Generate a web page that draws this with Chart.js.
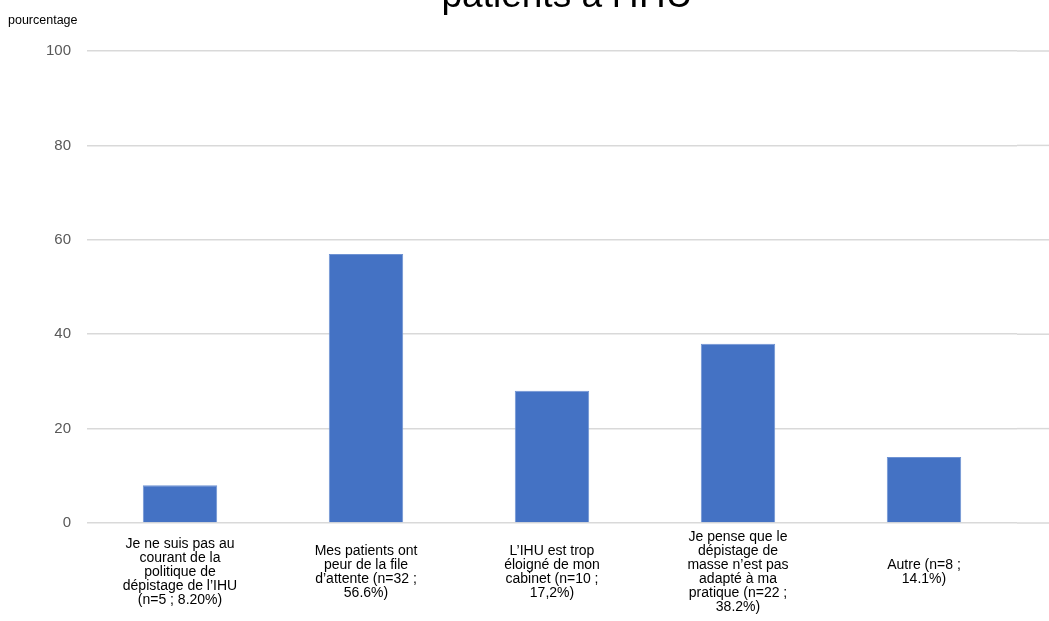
<!DOCTYPE html>
<html lang="fr">
<head>
<meta charset="utf-8">
<script src="https://cdn.jsdelivr.net/npm/chart.js@4"></script>
<style>
  html, body { margin: 0; padding: 0; background: #fff; overflow: hidden; }
  #wrap { position: relative; width: 1049px; height: 621px; }
  #titre { position: absolute; top: -24px; left: 367px; width: 400px; text-align: center;
           font: 37px/37px "Liberation Sans", Arial, sans-serif; color: #000; white-space: nowrap; }
  #unite { position: absolute; top: 13px; left: 8px; font: 12.5px "Liberation Sans", Arial, sans-serif; color: #000; }
</style>
</head>
<body>
<div id="wrap">
  <canvas id="grafico" width="1049" height="621"></canvas>
  <div id="titre">patients à l’IHU</div>
  <div id="unite">pourcentage</div>
</div>
<script>
const categories = [
  ["Je ne suis pas au", "courant de la", "politique de", "dépistage de l’IHU", "(n=5 ; 8.20%)"],
  ["Mes patients ont", "peur de la file", "d’attente (n=32 ;", "56.6%)"],
  ["L’IHU est trop", "éloigné de mon", "cabinet (n=10 ;", "17,2%)"],
  ["Je pense que le", "dépistage de", "masse n’est pas", "adapté à ma", "pratique (n=22 ;", "38.2%)"],
  ["Autre (n=8 ;", "14.1%)"]
];
const valeurs = [8, 57, 28, 38, 14];
const yTicks = [0, 20, 40, 60, 80, 100];

// prolonge les lignes de grille jusqu'au bord droit (image coupée)
const gridExtend = {
  id: 'gridExtend',
  beforeDatasetsDraw(chart) {
    const { ctx, chartArea, scales } = chart;
    ctx.save();
    ctx.strokeStyle = '#d9d9d9';
    ctx.lineWidth = 1.5;
    yTicks.forEach(v => {
      const y = scales.y.getPixelForValue(v);
      ctx.beginPath();
      ctx.moveTo(chartArea.right, y);
      ctx.lineTo(chart.width, y);
      ctx.stroke();
    });
    ctx.restore();
  }
};

const myChart = document.getElementById('grafico');
new Chart(myChart, {
  type: 'bar',
  data: {
    labels: categories,
    datasets: [{
      data: valeurs,
      backgroundColor: '#4472c4',
      borderColor: '#6f93d3',
      borderWidth: 1,
      categoryPercentage: 0.4,
      barPercentage: 1
    }]
  },
  options: {
    responsive: false,
    animation: false,
    layout: { padding: { top: 51, right: 32, left: 0, bottom: 0 } },
    plugins: { legend: { display: false }, tooltip: { enabled: false } },
    scales: {
      x: {
        grid: { display: false },
        border: { display: false },
        ticks: {
          color: '#000',
          font: { family: 'Liberation Sans', size: 14, lineHeight: 1.0 },
          maxRotation: 0,
          autoSkip: false,
          padding: 6,
          crossAlign: 'center'
        },
        afterFit: s => { s.height = 98; }
      },
      y: {
        min: 0,
        max: 100,
        grid: { color: '#d9d9d9', lineWidth: 1.5, drawTicks: false },
        border: { display: false },
        ticks: {
          stepSize: 20,
          color: '#595959',
          font: { family: 'Liberation Sans', size: 15 },
          padding: 16
        },
        afterFit: s => { s.width = 87; }
      }
    }
  },
  plugins: [gridExtend]
});
</script>
</body>
</html>
